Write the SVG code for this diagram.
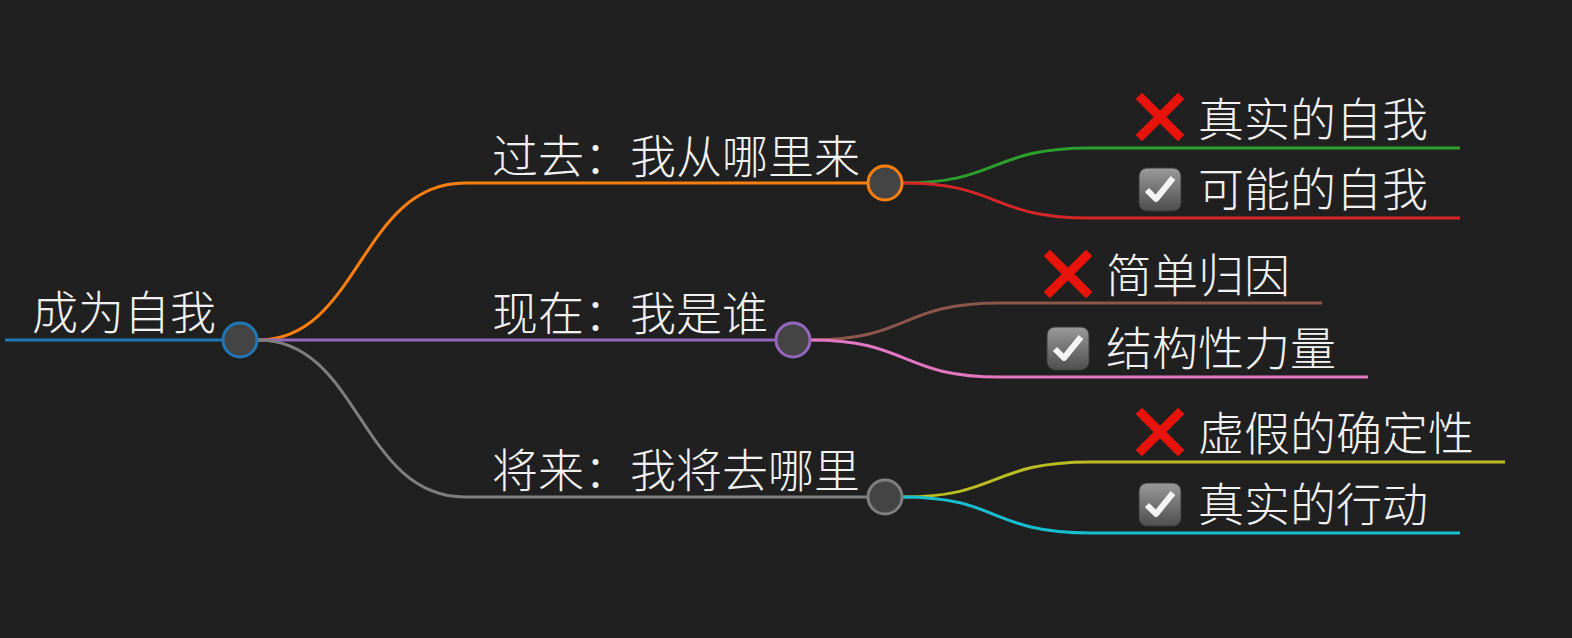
<svg xmlns="http://www.w3.org/2000/svg" width="1572" height="638" viewBox="0 0 1572 638">
<defs>
<style>
text{font-family:"Noto Sans CJK SC","Noto Sans",sans-serif;font-size:46px;font-weight:300;fill:#f2f2f2}
.c{fill:none;stroke-width:3}
.n{fill:#444;stroke-width:3}
</style>
<g id="x"><path d="M4 4 L40 40 M40 4 L4 40" stroke="#e8140c" stroke-width="9" stroke-linecap="square"/></g>
<linearGradient id="gb" x1="0" y1="0" x2="0" y2="1"><stop offset="0" stop-color="#9a9a9a"/><stop offset="1" stop-color="#4e4e4e"/></linearGradient>
<g id="ck"><rect x="1" y="1" width="42" height="43" rx="8" fill="url(#gb)" stroke="#3a3a3a"/><path d="M9 23 L18 32 L35 11" fill="none" stroke="#f4f4f4" stroke-width="6" stroke-linejoin="round"/></g>
</defs>
<rect width="1572" height="638" fill="#202020"/>
<g id="connectors">
<path class="c" stroke="#1f77b4" d="M5 340 H222"/>
<path class="c" stroke="#ff7f0e" d="M258 340 C360 340 360 183 465 183 H868"/>
<path class="c" stroke="#9467bd" d="M258 340 H775"/>
<path class="c" stroke="#7f7f7f" d="M258 340 C360 340 360 497 465 497 H868"/>
<path class="c" stroke="#2ca02c" d="M903 183 C1000 183 990 148 1090 148 H1460"/>
<path class="c" stroke="#d62728" d="M903 183 C1000 183 990 218 1090 218 H1460"/>
<path class="c" stroke="#8c564b" d="M811 340 C910 340 900 303 1000 303 H1322"/>
<path class="c" stroke="#e377c2" d="M811 340 C910 340 900 377 1000 377 H1368"/>
<path class="c" stroke="#bcbd22" d="M903 497 C1000 497 990 462 1090 462 H1505"/>
<path class="c" stroke="#17becf" d="M903 497 C1000 497 990 533 1090 533 H1460"/>
</g>
<g id="root"><text x="32" y="329">成为自我</text><circle class="n" cx="240" cy="340" r="17" stroke="#1f77b4"/></g>
<g id="past"><text x="492" y="173">过去：我从哪里来</text><circle class="n" cx="885" cy="183" r="17" stroke="#ff7f0e"/></g>
<g id="now"><text x="492" y="330">现在：我是谁</text><circle class="n" cx="793" cy="340" r="17" stroke="#9467bd"/></g>
<g id="future"><text x="492" y="487">将来：我将去哪里</text><circle class="n" cx="885" cy="497" r="17" stroke="#7f7f7f"/></g>
<g id="l1"><use href="#x" x="1138" y="95"/><text x="1198" y="136">真实的自我</text></g>
<g id="l2"><use href="#ck" x="1138" y="167"/><text x="1198" y="206">可能的自我</text></g>
<g id="l3"><use href="#x" x="1046" y="252"/><text x="1106" y="292">简单归因</text></g>
<g id="l4"><use href="#ck" x="1046" y="326"/><text x="1106" y="365">结构性力量</text></g>
<g id="l5"><use href="#x" x="1138" y="410"/><text x="1198" y="450">虚假的确定性</text></g>
<g id="l6"><use href="#ck" x="1138" y="482"/><text x="1198" y="521">真实的行动</text></g>
</svg>
